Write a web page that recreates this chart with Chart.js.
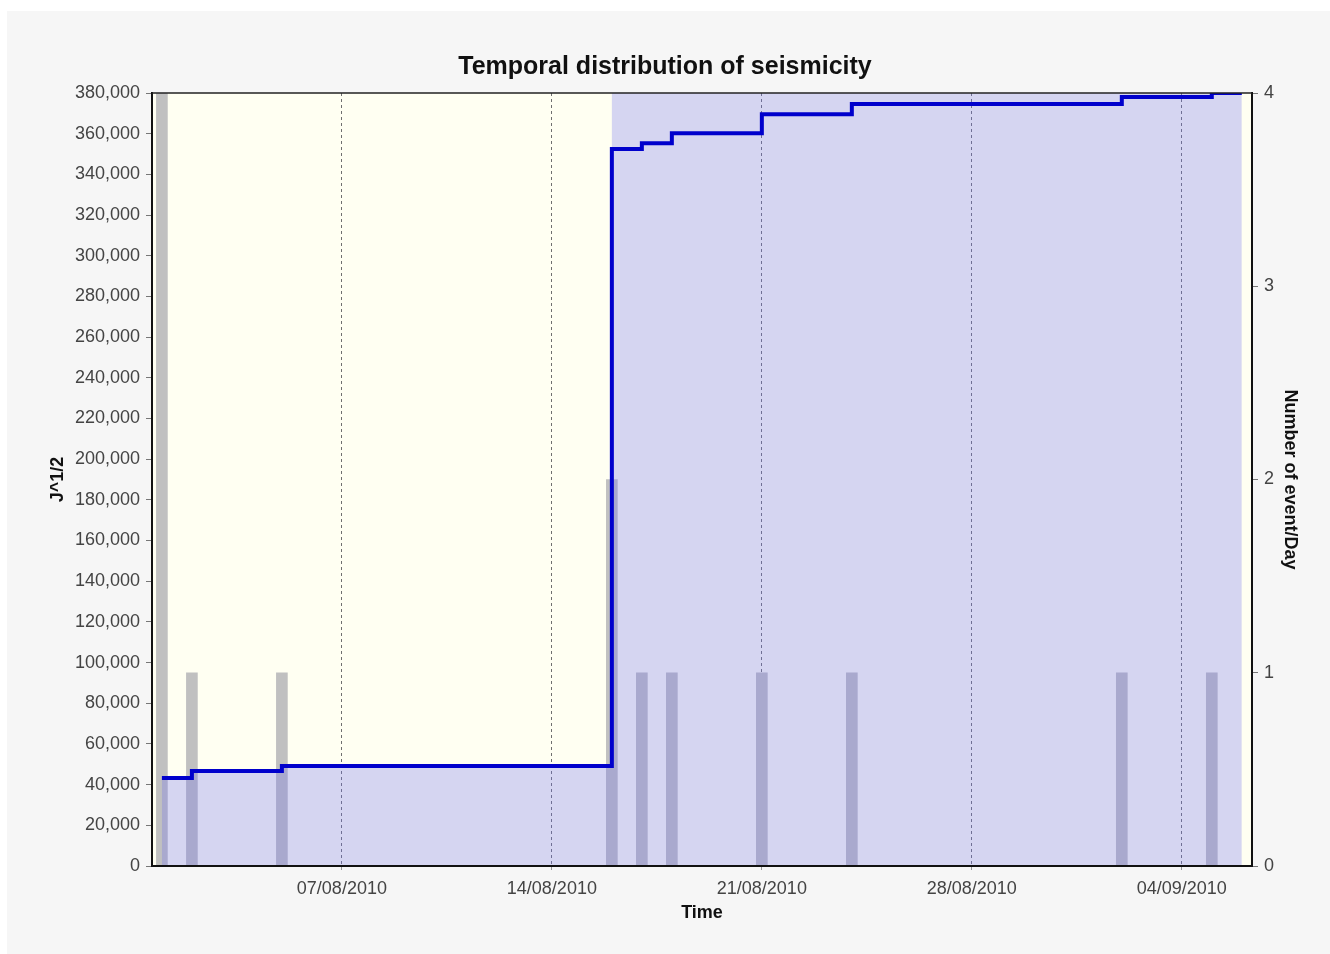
<!DOCTYPE html>
<html>
<head>
<meta charset="utf-8">
<title>Temporal distribution of seismicity</title>
<script src="https://cdn.jsdelivr.net/npm/chart.js@4.4.1/dist/chart.umd.min.js"></script>
<style>
  html, body { margin: 0; padding: 0; background: #fff; overflow: hidden; }
  canvas { display: block; }
</style>
</head>
<body>
<canvas id="seismicity" width="1330" height="954"></canvas>
<script>
'use strict';

// x values are days counted from 01/08/2010
const eventDays = [0, 1, 4, 15, 16, 17, 20, 23, 32, 35];
const eventsPerDay = [4, 1, 1, 2, 1, 1, 1, 1, 1, 1];
const cumulativeStrain = [43300, 46700, 49200, 352500, 355300, 360200, 369500, 374600, 378000, 380000];
const lastDay = 36;
const shadeFromDay = 15;

const tickDays = [6, 13, 20, 27, 34];
const tickLabels = ['07/08/2010', '14/08/2010', '21/08/2010', '28/08/2010', '04/09/2010'];

const strainMax = 380000;
const strainStep = 20000;
const countMax = 4;

(function initSeismicityChart() {
  if (typeof Chart === 'undefined') {
    return;
  }

  const canvas = document.getElementById('seismicity');
  const ctx = canvas.getContext('2d');

  const lastStrain = cumulativeStrain[cumulativeStrain.length - 1];
  const strainPoints = eventDays.map((day, i) => ({ x: day, y: cumulativeStrain[i] }));
  strainPoints.push({ x: lastDay, y: lastStrain });

  // lavender band: under the curve before the big jump, full height after it
  const shadePoints = eventDays.map((day, i) => ({
    x: day,
    y: day >= shadeFromDay ? strainMax : cumulativeStrain[i]
  }));
  shadePoints.push({ x: lastDay, y: strainMax });

  const countPoints = eventDays.map((day, i) => ({ x: day, y: eventsPerDay[i] }));

  const tickFont = { family: '"Liberation Sans", Arial, sans-serif', size: 18 };
  const titleFont = { family: '"Liberation Sans", Arial, sans-serif', size: 18, weight: 'bold' };

  const plotBackground = {
    id: 'plotBackground',
    beforeDraw(chart) {
      const { ctx: c, chartArea: area, width, height } = chart;
      c.save();
      c.fillStyle = '#ffffff';
      c.fillRect(0, 0, width, height);
      c.fillStyle = '#f6f6f6';
      c.fillRect(7, 11, width - 7, height - 11);
      c.fillStyle = '#fffff2';
      c.fillRect(area.left, area.top, area.right - area.left, area.bottom - area.top);
      c.restore();
    },
    afterDraw(chart) {
      const { ctx: c, chartArea: area } = chart;
      c.save();
      c.strokeStyle = '#222';
      c.lineWidth = 1.5;
      c.beginPath();
      c.moveTo(area.left, area.top);
      c.lineTo(area.right, area.top);
      c.stroke();
      c.restore();
    }
  };

  new Chart(ctx, {
    type: 'line',
    data: {
      datasets: [
        {
          type: 'line',
          label: 'J^1/2',
          data: strainPoints,
          yAxisID: 'y',
          borderColor: '#0000cc',
          borderWidth: 4,
          pointRadius: 0,
          stepped: true,
          fill: false,
          order: 0
        },
        {
          type: 'line',
          label: 'shade',
          data: shadePoints,
          yAxisID: 'y',
          borderWidth: 0,
          borderColor: 'rgba(0,0,0,0)',
          backgroundColor: 'rgba(115, 115, 239, 0.3)',
          pointRadius: 0,
          stepped: true,
          fill: 'origin',
          order: 1
        },
        {
          type: 'bar',
          label: 'Number of event/Day',
          data: countPoints,
          yAxisID: 'y2',
          backgroundColor: '#c0c0c0',
          borderWidth: 0,
          barThickness: 11,
          order: 2
        }
      ]
    },
    options: {
      responsive: false,
      animation: false,
      events: [],
      layout: { padding: 0 },
      plugins: {
        legend: { display: false },
        tooltip: { enabled: false },
        title: {
          display: true,
          text: 'Temporal distribution of seismicity',
          color: '#111',
          font: { family: '"Liberation Sans", Arial, sans-serif', size: 25, weight: 'bold' },
          padding: { top: 52, bottom: 11 }
        }
      },
      scales: {
        x: {
          type: 'linear',
          min: -0.33,
          max: 36.34,
          offset: false,
          afterBuildTicks(scale) {
            scale.ticks = tickDays.map(value => ({ value }));
          },
          afterFit(scale) {
            scale.height = 88;
          },
          ticks: {
            autoSkip: false,
            maxRotation: 0,
            padding: 8,
            color: '#444',
            font: tickFont,
            callback: (value, index) => tickLabels[index]
          },
          grid: {
            offset: false,
            color: '#6f6f6f',
            lineWidth: 1,
            tickLength: 4,
            tickColor: '#999'
          },
          border: { display: true, color: '#111', width: 2, dash: [3, 3], z: 1 },
          title: {
            display: true,
            text: 'Time',
            color: '#111',
            font: titleFont,
            padding: { top: 0, bottom: 30 }
          }
        },
        y: {
          type: 'linear',
          position: 'left',
          min: 0,
          max: strainMax,
          afterFit(scale) {
            scale.width = 152;
          },
          ticks: {
            stepSize: strainStep,
            padding: 6,
            color: '#444',
            font: tickFont,
            callback: value => value.toLocaleString('en-US')
          },
          grid: {
            drawOnChartArea: false,
            tickLength: 6,
            tickColor: '#777'
          },
          border: { display: true, color: '#111', width: 2, z: 1 },
          title: {
            display: true,
            text: 'J^1/2',
            color: '#111',
            font: titleFont,
            padding: { top: 47, bottom: 0 }
          }
        },
        y2: {
          type: 'linear',
          position: 'right',
          min: 0,
          max: countMax,
          afterFit(scale) {
            scale.width = 78;
          },
          ticks: {
            stepSize: 1,
            padding: 6,
            color: '#444',
            font: tickFont
          },
          grid: {
            drawOnChartArea: false,
            tickLength: 6,
            tickColor: '#777'
          },
          border: { display: true, color: '#111', width: 2, z: 1 },
          title: {
            display: true,
            text: 'Number of event/Day',
            color: '#111',
            font: titleFont,
            padding: { top: 29, bottom: 0 }
          }
        }
      }
    },
    plugins: [plotBackground]
  });
})();
</script>
</body>
</html>
